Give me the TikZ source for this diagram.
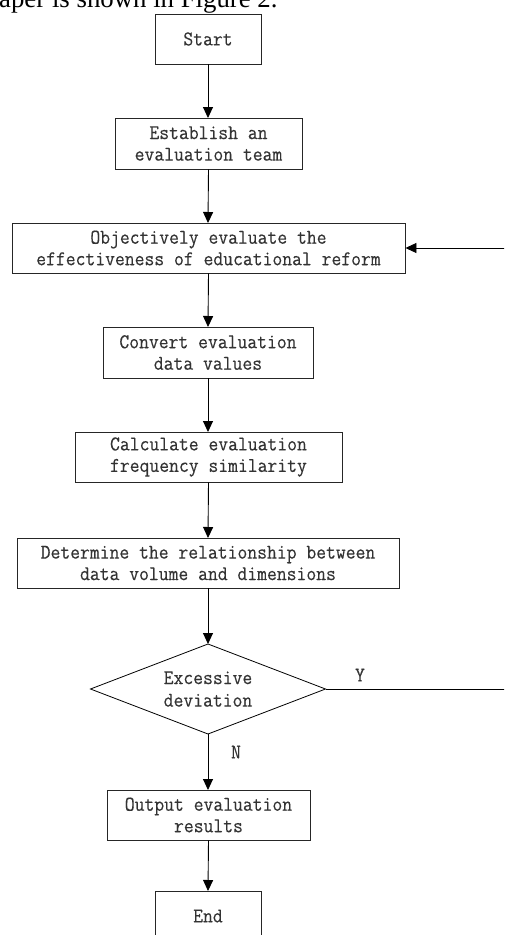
\documentclass[tikz,border=0pt]{standalone}
\usepackage{fontspec}
\setmainfont{Liberation Serif}
\setmonofont{Latin Modern Mono}[FakeStretch=0.91, FakeBold=0.25]
\usetikzlibrary{arrows.meta}
\begin{document}
\begin{tikzpicture}[x=1pt,y=-1pt,
  box/.style={draw=black!85, line width=0.9pt, rectangle, align=center, inner sep=0pt,
    text=black!80, font=\ttfamily\fontsize{21}{21.5}\selectfont, minimum height=50},
  lbl/.style={text=black!80, font=\ttfamily\fontsize{21}{22.5}\selectfont, inner sep=0pt},
  arr/.style={draw=black, line width=0.9pt, -{Triangle[width=10pt,length=11pt]}},
  ln/.style={draw=black, line width=0.9pt}]
\useasboundingbox (0,0) rectangle (504,935);
\clip (0,0) rectangle (504,935);
\fill[white] (0,0) rectangle (504,935);
% cut-off caption line of the page
\node[anchor=base west, inner sep=0pt, font=\fontsize{26.8}{28}\selectfont] (cap) at (-1,7) {aper is shown in Figure 2.};
% boxes
\node[box, minimum width=106] (start) at (208,39) {Start};
\node[box, minimum width=187, minimum height=51] (est) at (208.5,143.5) {Establish an\\evaluation team};
\node[box, minimum width=393] (obj) at (208.5,248) {Objectively evaluate the\\effectiveness of educational reform};
\node[box, minimum width=210, minimum height=51] (conv) at (208,352.5) {Convert evaluation\\data values};
\node[box, minimum width=267] (calc) at (208.5,457) {Calculate evaluation\\frequency similarity};
\node[box, minimum width=382] (det) at (208,563) {Determine the relationship between\\data volume and dimensions};
% decision diamond
\node[lbl, align=center] (dec) at (208,689) {Excessive\\deviation};
\coordinate (dtop) at (208,644);
\coordinate (dbot) at (208,734);
\coordinate (dleft) at (90.5,689);
\coordinate (dright) at (325.5,689);
\draw[ln, line width=0.8pt, line join=miter] (dtop) -- (dright) -- (dbot) -- (dleft) -- cycle;
\node[box, minimum width=203] (out) at (208.5,815) {Output evaluation\\results};
\node[box, minimum width=106] (end) at (208,916) {End};
% connectors
\draw[arr] (start.south) -- (208,118);
\draw[arr] (est.south) -- (208,223);
\draw[arr] (obj.south) -- (208,327);
\draw[arr] (conv.south) -- (208,432);
\draw[arr] (calc.south) -- (208,538);
\draw[arr] (det.south) -- (dtop);
\draw[arr] (dbot) -- (208,790);
\draw[arr] (out.south) -- (208,891);
\coordinate (fb1) at (507,689);
\coordinate (fb2) at (507,248);
\draw[arr] (dright) -- (fb1) -- (fb2) -- (obj.east);
\node[lbl] (ylab) at (360,675) {Y};
\node[lbl] (nlab) at (236,752) {N};
\end{tikzpicture}
\end{document}
